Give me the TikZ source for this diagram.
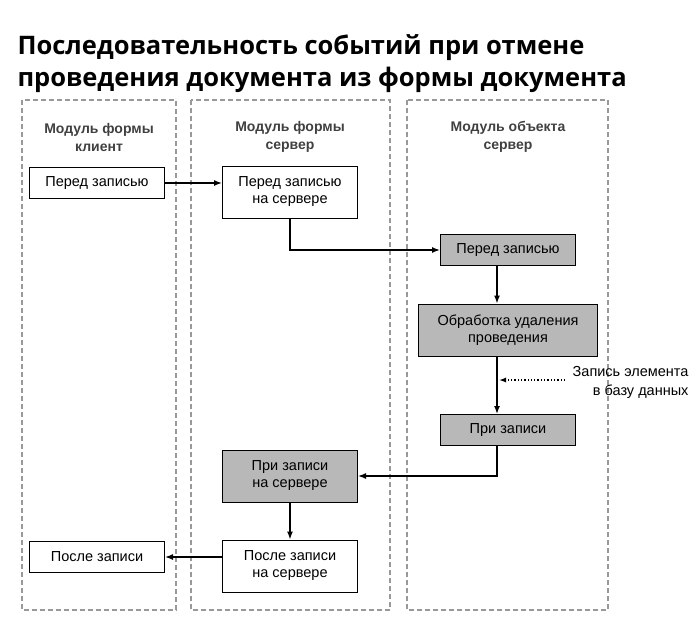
\documentclass[tikz,border=0pt]{standalone}
\usepackage{fontspec}
\setmainfont{Liberation Sans}
\newfontfamily\titlefont{Open Sans}
\usetikzlibrary{arrows.meta}
\usetikzlibrary{positioning}
\definecolor{stepgray}{rgb}{0.72, 0.72, 0.72}
\definecolor{lanegray}{rgb}{0.6, 0.6, 0.6}

\begin{document}
\begin{tikzpicture}[x=1pt, y=-1pt,
  lane/.style={draw=lanegray, dash pattern=on 5pt off 3pt, line width=1.3pt},
  evbox/.style={draw, line width=1pt, minimum width=135pt, minimum height=31pt, align=center, font=\fontsize{14.5}{17}\selectfont},
  tallbox/.style={evbox, minimum height=52pt},
  srv/.style={fill=stepgray},
  head/.style={align=center, font=\bfseries\fontsize{14}{18}\selectfont, text=black!75},
  flow/.style={-{Latex[length=8pt,width=6pt]}, line width=1.4pt}]

\useasboundingbox (0,0) rectangle (700,624);

\node[anchor=west, align=left, font=\titlefont\bfseries\fontsize{25.5}{32}\selectfont] (title) at (14,64)
  {Последовательность событий при отмене\\проведения документа из формы документа};

% lanes
\draw[lane] (22,100) rectangle (176,610);
\draw[lane] (191,100) rectangle (390,610);
\draw[lane] (407,100) rectangle (608,610);

\node[head] (h1) at (99,137) {Модуль формы\\клиент};
\node[head] (h2) at (290,137) {Модуль формы\\сервер};
\node[head] (h3) at (508,137) {Модуль объекта\\сервер};

% events
\node[evbox] (cbefore) at (97,183) {Перед записью};
\node[tallbox] (sbefore) at (290,192) {Перед записью\\на сервере};
\node[evbox, srv] (obefore) at (508,250) {Перед записью};
\node[tallbox, srv, minimum width=179pt] (oundo) at (508,330) {Обработка удаления\\проведения};
\node[evbox, srv] (owrite) at (508,430) {При записи};
\node[tallbox, srv] (swrite) at (290,476) {При записи\\на сервере};
\node[tallbox] (safter) at (290,566) {После записи\\на сервере};
\node[evbox] (cafter) at (97,557) {После записи};

\node[align=right, anchor=east, font=\fontsize{14.5}{19}\selectfont] (dbnote) at (692,382) {Запись элемента\\в базу данных};
\coordinate (dbtip) at (499,380);

% connectors
\draw[flow] (cbefore) -- (cbefore -| sbefore.west);
\draw[flow] (sbefore.south) |- (obefore.west);
\draw[flow] (obefore.south -| 497,0) -- (oundo.north -| 497,0);
\draw[flow] (oundo.south -| 497,0) -- (owrite.north -| 497,0);
\draw[flow] (owrite.south -| 497,0) |- (swrite.east);
\draw[flow] (swrite) -- (safter);
\draw[flow] (safter.west |- cafter) -- (cafter.east);
\draw[-{Latex[length=7pt,width=5pt]}, line width=1.3pt, dotted] (dbnote.west |- dbtip) ++(-4,0) -- (dbtip);

\end{tikzpicture}
\end{document}
